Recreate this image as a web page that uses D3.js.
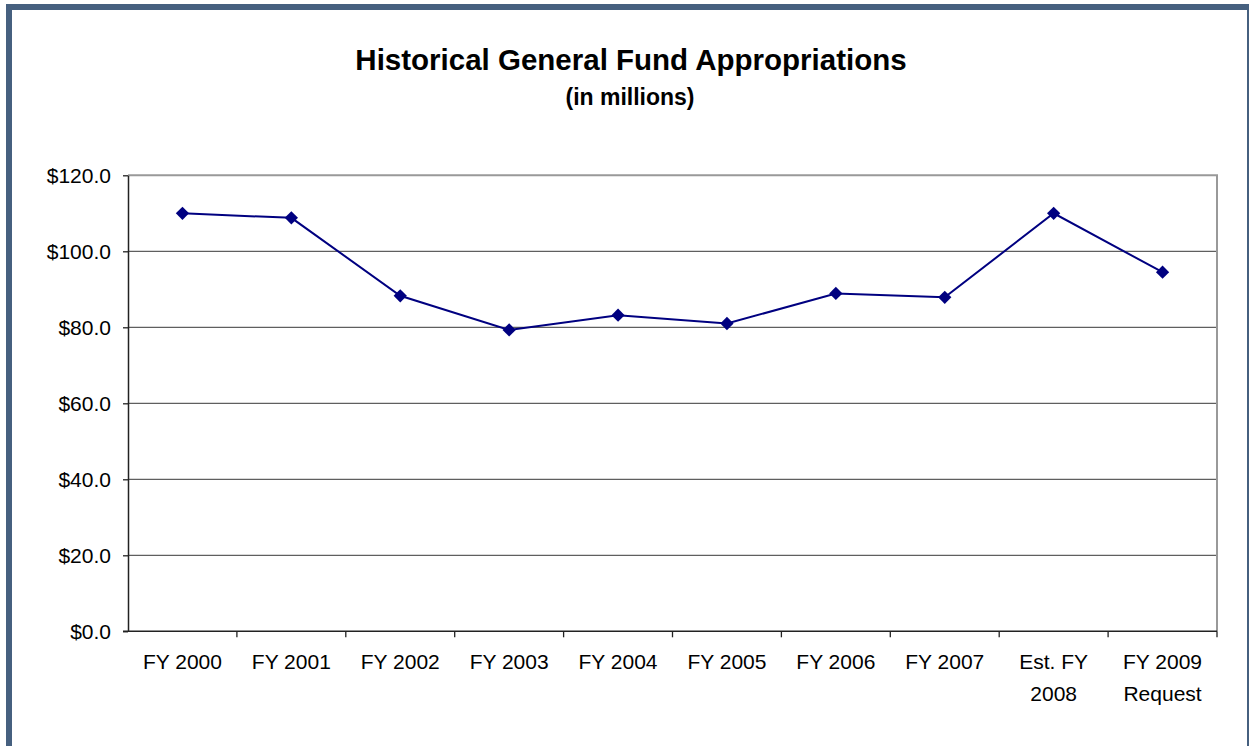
<!DOCTYPE html>
<html>

<head>
    <meta charset="utf-8">
    <style>
        body {
            margin: 0;
            background: #fff;
        }

        svg {
            display: block;
            font-family: Arial, "Liberation Sans", sans-serif;
        }
    </style>
</head>

<body>
    <div id="chart"></div>
    <script src="https://d3js.org/d3.v7.min.js"></script>
    <script>

        // data
        const categories = ["FY 2000", "FY 2001", "FY 2002", "FY 2003", "FY 2004",
            "FY 2005", "FY 2006", "FY 2007", "Est. FY 2008", "FY 2009 Request"]
        const tickLines = [["FY 2000"], ["FY 2001"], ["FY 2002"], ["FY 2003"], ["FY 2004"],
            ["FY 2005"], ["FY 2006"], ["FY 2007"], ["Est. FY", "2008"], ["FY 2009", "Request"]]
        const values = [110.0, 108.8, 88.3, 79.3, 83.2, 81.0, 88.9, 87.9, 110.0, 94.5]
        const yTicks = [0, 20, 40, 60, 80, 100, 120]

        const width = 1249
        const height = 746
        const plot = { left: 128, right: 1217, top: 175.3, bottom: 631.3 }

        const svg = d3.select("#chart")
            .append("svg")
            .attr("width", width)
            .attr("height", height)

        // frame around the whole picture (cut off at bottom and right)
        svg.append("rect")
            .attr("x", 6).attr("y", 4)
            .attr("width", width - 6).attr("height", 6)
            .attr("fill", "#46607f")
        svg.append("rect")
            .attr("x", 6).attr("y", 4)
            .attr("width", 6).attr("height", height - 4)
            .attr("fill", "#46607f")
        svg.append("rect")
            .attr("x", width - 2).attr("y", 4)
            .attr("width", 2).attr("height", height - 4)
            .attr("fill", "#46607f")

        // titles
        svg.append("text")
            .attr("x", 631).attr("y", 70)
            .attr("text-anchor", "middle")
            .attr("font-size", 29.5)
            .attr("font-weight", "bold")
            .text("Historical General Fund Appropriations")
        svg.append("text")
            .attr("x", 630).attr("y", 105)
            .attr("text-anchor", "middle")
            .attr("font-size", 23)
            .attr("font-weight", "bold")
            .text("(in millions)")

        const x = d3.scaleBand()
            .domain(categories)
            .range([plot.left, plot.right])
            .paddingInner(0)
            .paddingOuter(0)

        const y = d3.scaleLinear()
            .domain([0, 120])
            .range([plot.bottom, plot.top])

        // gridlines
        svg.append("g")
            .selectAll("line")
            .data(yTicks.filter(d => d > 0 && d < 120))
            .enter().append("line")
            .attr("x1", plot.left).attr("x2", plot.right)
            .attr("y1", d => y(d)).attr("y2", d => y(d))
            .attr("stroke", "#5f5f5f")
            .attr("stroke-width", 1.3)

        // top and right border of the plot area
        svg.append("path")
            .attr("d", `M${plot.left},${y(120)}H${plot.right}V${plot.bottom}`)
            .attr("fill", "none")
            .attr("stroke", "#999")
            .attr("stroke-width", 2)

        // y axis
        const yAxis = svg.append("g")
            .attr("transform", `translate(${plot.left},0)`)
            .call(d3.axisLeft(y)
                .tickValues(yTicks)
                .tickFormat(d => "$" + d.toFixed(1))
                .tickSize(5)
                .tickPadding(12)
                .tickSizeOuter(0))
        yAxis.select(".domain").attr("stroke", "#222").attr("stroke-width", 1.5)
        yAxis.selectAll(".tick line").attr("stroke", "#222").attr("stroke-width", 1.3)
        yAxis.selectAll(".tick text")
            .attr("font-size", 21)
            .attr("fill", "#000")
            .attr("font-family", null)

        // x axis: ticks at category boundaries, labels at centres
        const xAxis = svg.append("g")
            .attr("transform", `translate(0,${plot.bottom})`)
        xAxis.append("line")
            .attr("x1", plot.left - 5).attr("x2", plot.right)
            .attr("stroke", "#222")
            .attr("stroke-width", 1.5)
        xAxis.selectAll(".bound")
            .data(categories)
            .enter().append("line")
            .attr("class", "bound")
            .attr("x1", d => x(d) + x.bandwidth()).attr("x2", d => x(d) + x.bandwidth())
            .attr("y1", 0).attr("y2", 6)
            .attr("stroke", "#222")
            .attr("stroke-width", 1.3)
        xAxis.selectAll(".lab")
            .data(categories)
            .enter().append("text")
            .attr("class", "lab")
            .attr("text-anchor", "middle")
            .attr("font-size", 21)
            .attr("fill", "#000")
            .each(function (d, i) {
                d3.select(this).selectAll("tspan")
                    .data(tickLines[i])
                    .enter().append("tspan")
                    .attr("x", x(d) + x.bandwidth() / 2)
                    .attr("y", (t, j) => 38 + j * 31.5)
                    .text(t => t)
            })

        // the series
        const line = d3.line()
            .x((d, i) => x(categories[i]) + x.bandwidth() / 2)
            .y(d => y(d))

        svg.append("path")
            .datum(values)
            .attr("d", line)
            .attr("fill", "none")
            .attr("stroke", "#000080")
            .attr("stroke-width", 2)

        svg.append("g")
            .selectAll("path")
            .data(values)
            .enter().append("path")
            .attr("d", d3.symbol(d3.symbolDiamond2, 112))
            .attr("transform", (d, i) => `translate(${x(categories[i]) + x.bandwidth() / 2},${y(d)})`)
            .attr("fill", "#000080")

    </script>
</body>

</html>
